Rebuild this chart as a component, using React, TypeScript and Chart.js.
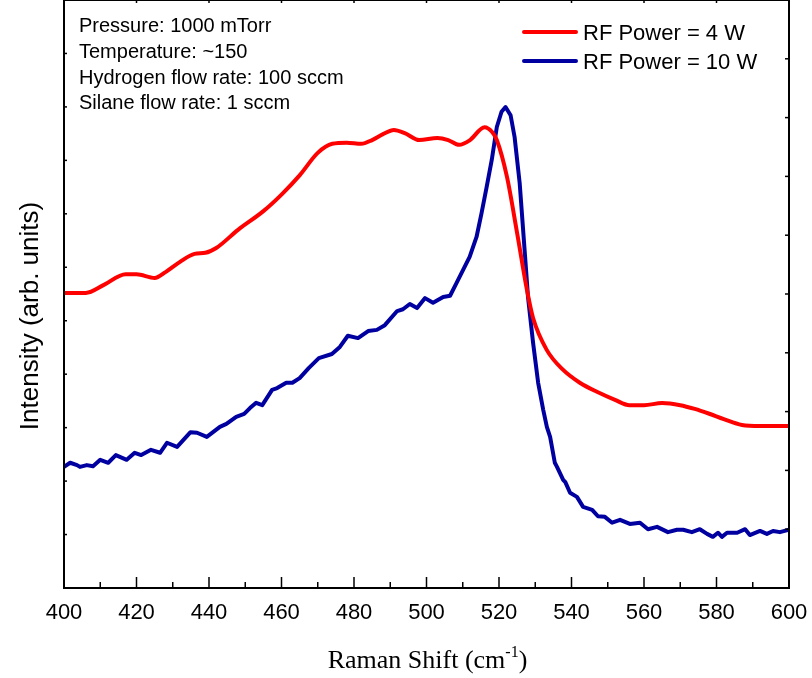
import React, { useEffect, useRef } from 'react';
import { Chart, registerables } from 'chart.js';

Chart.register(...registerables);

// ---- data ----
const seriesLabels = ['RF Power = 4 W', 'RF Power = 10 W'];
const seriesColors = ['#FF0000', '#0000A0'];

const redX = [400, 406, 411, 417, 420, 425, 428, 432, 436, 439, 442, 448, 455, 460, 465, 470, 474, 478, 482, 485, 488, 491, 494, 498, 503, 506, 509, 512, 516, 518.1, 519.4, 522.2, 525, 527.7, 529.4, 533.2, 537.7, 542.3, 547, 552, 556, 560, 565, 570, 574, 578, 582, 587, 592, 596, 600];
const redY = [5.52, 5.52, 5.67, 5.87, 5.87, 5.8, 5.91, 6.1, 6.25, 6.27, 6.36, 6.7, 7.05, 7.36, 7.72, 8.14, 8.31, 8.33, 8.31, 8.38, 8.49, 8.57, 8.51, 8.38, 8.42, 8.38, 8.29, 8.38, 8.62, 8.53, 8.38, 7.69, 6.64, 5.58, 5.05, 4.45, 4.08, 3.84, 3.67, 3.52, 3.42, 3.42, 3.46, 3.42, 3.35, 3.26, 3.16, 3.05, 3.03, 3.03, 3.03];

const blueX = [400, 401.7, 403.6, 404.4, 406.3, 408, 410, 412.2, 414.3, 417.3, 419.5, 421.3, 424, 426.5, 428.4, 431.2, 434.9, 436.7, 439.4, 443, 444.8, 447.5, 449.7, 451.3, 453, 454.7, 457.4, 458.8, 461.3, 463, 465, 467.5, 470.3, 473.9, 476.1, 478.3, 481.1, 483.9, 486.3, 488.5, 491.9, 493.5, 495.4, 497.4, 499.6, 501.8, 504.6, 506.5, 508.3, 511.9, 513.8, 515.2, 516.6, 518, 519.4, 520.7, 521.8, 523.2, 524.3, 525.7, 527.2, 528, 529.4, 530.8, 532.2, 533.2, 534.1, 535.4, 536, 537.7, 538.3, 539.6, 541.5, 543.2, 545.7, 547.3, 549.2, 551.2, 553.4, 556.1, 558.9, 561.1, 563.6, 566.6, 569.1, 570.8, 573.2, 575.4, 577.4, 579, 580.4, 581.5, 582.9, 585.7, 587.9, 589.2, 592, 593.9, 595.6, 597.5, 600];
const blueY = [2.06, 2.13, 2.09, 2.06, 2.09, 2.07, 2.18, 2.13, 2.26, 2.18, 2.3, 2.26, 2.35, 2.3, 2.47, 2.4, 2.65, 2.64, 2.57, 2.74, 2.79, 2.91, 2.96, 3.06, 3.15, 3.11, 3.37, 3.4, 3.49, 3.49, 3.57, 3.74, 3.91, 3.98, 4.1, 4.29, 4.25, 4.37, 4.39, 4.47, 4.71, 4.74, 4.83, 4.76, 4.93, 4.85, 4.95, 4.97, 5.19, 5.63, 5.97, 6.38, 6.82, 7.28, 7.84, 8.1, 8.18, 8.04, 7.67, 6.89, 5.63, 4.95, 4.17, 3.49, 3.03, 2.74, 2.57, 2.13, 2.06, 1.84, 1.8, 1.62, 1.55, 1.38, 1.33, 1.22, 1.21, 1.11, 1.16, 1.09, 1.11, 1.0, 1.04, 0.95, 0.99, 0.99, 0.95, 1.0, 0.92, 0.87, 0.94, 0.87, 0.94, 0.94, 1.0, 0.9, 0.97, 0.92, 0.97, 0.95, 0.99];

const xMin = 400;
const xMax = 600;
const xMajorStep = 20;
const xMinorStep = 10;
const yLeftMax = 11;
const yRightMax = 10;

const conditions = ['Pressure: 1000 mTorr', 'Temperature: ~150', 'Hydrogen flow rate: 100 sccm', 'Silane flow rate: 1 sccm'];
const yTitle = 'Intensity (arb. units)';
const xTitleMain = 'Raman Shift (cm';
const xTitleSup = '-1';
const xTitleEnd = ')';

const SANS = '"Liberation Sans", Arial, sans-serif';
const SERIF = '"Liberation Serif", "Times New Roman", serif';

const decorPlugin = {
  id: 'decor',
  afterDraw(chart: any) {
    const ctx = chart.ctx;
    const a = chart.chartArea;
    const xs = chart.scales.x;
    const yl = chart.scales.y;
    const yr = chart.scales.y1;
    ctx.save();
    // frame
    ctx.strokeStyle = '#000';
    ctx.lineWidth = 2;
    ctx.strokeRect(a.left, a.top, a.right - a.left, a.bottom - a.top);
    // x ticks
    ctx.lineWidth = 1.5;
    for (let v = xMin; v <= xMax; v += xMinorStep) {
      const p = xs.getPixelForValue(v);
      const major = (v - xMin) % xMajorStep === 0;
      ctx.beginPath();
      ctx.moveTo(p, a.bottom);
      ctx.lineTo(p, a.bottom - (major ? 11 : 6));
      ctx.stroke();
      if (major) {
        ctx.beginPath();
        ctx.moveTo(p, a.top);
        ctx.lineTo(p, a.top + 3);
        ctx.stroke();
      }
    }
    // y ticks left
    for (let v = 1; v < yLeftMax; v++) {
      const p = yl.getPixelForValue(v);
      ctx.beginPath();
      ctx.moveTo(a.left, p);
      ctx.lineTo(a.left + 3, p);
      ctx.stroke();
    }
    // y ticks right
    for (let v = 1; v < yRightMax; v++) {
      const p = yr.getPixelForValue(v);
      ctx.beginPath();
      ctx.moveTo(a.right, p);
      ctx.lineTo(a.right - 4, p);
      ctx.stroke();
    }
    // condition text
    ctx.fillStyle = '#000';
    ctx.font = `20px ${SANS}`;
    ctx.textAlign = 'left';
    ctx.textBaseline = 'alphabetic';
    conditions.forEach((t, i) => {
      ctx.fillText(t, a.left + 15, a.top + 32 + i * 25.8);
    });
    // legend
    ctx.font = `22px ${SANS}`;
    chart.data.datasets.forEach((ds: any, i: number) => {
      const ly = a.top + 32 + i * 29;
      ctx.strokeStyle = ds.borderColor;
      ctx.lineWidth = 4;
      ctx.lineCap = 'round';
      ctx.beginPath();
      ctx.moveTo(a.right - 265, ly);
      ctx.lineTo(a.right - 213, ly);
      ctx.stroke();
      ctx.fillStyle = '#000';
      ctx.fillText(ds.label, a.right - 206, ly + 7.5);
    });
    // y title
    ctx.save();
    ctx.translate(38, (a.top + a.bottom) / 2 + 22);
    ctx.rotate(-Math.PI / 2);
    ctx.font = `26px ${SANS}`;
    ctx.textAlign = 'center';
    ctx.textBaseline = 'alphabetic';
    ctx.fillStyle = '#000';
    ctx.fillText(yTitle, 0, 0);
    ctx.restore();
    // x title with superscript
    const mainFont = `26px ${SERIF}`;
    const supFont = `16px ${SERIF}`;
    ctx.font = mainFont;
    const w1 = ctx.measureText(xTitleMain).width;
    const w3 = ctx.measureText(xTitleEnd).width;
    ctx.font = supFont;
    const w2 = ctx.measureText(xTitleSup).width;
    const total = w1 + w2 + w3;
    let sx = (a.left + a.right) / 2 - total / 2 + 1;
    const by = a.bottom + 80;
    ctx.textAlign = 'left';
    ctx.font = mainFont;
    ctx.fillText(xTitleMain, sx, by);
    sx += w1;
    ctx.font = supFont;
    ctx.fillText(xTitleSup, sx, by - 11);
    sx += w2;
    ctx.font = mainFont;
    ctx.fillText(xTitleEnd, sx, by);
    ctx.restore();
  },
};

export default function App() {
  const ref = useRef<HTMLCanvasElement | null>(null);
  useEffect(() => {
    document.body.style.margin = '0';
    const canvas = ref.current;
    if (!canvas) return;
    const chart = new Chart(canvas, {
      type: 'line',
      data: {
        datasets: [
          {
            label: seriesLabels[0],
            data: redX.map((x, i) => ({ x, y: redY[i] })),
            borderColor: seriesColors[0],
            backgroundColor: seriesColors[0],
            borderWidth: 4,
            pointRadius: 0,
            cubicInterpolationMode: 'monotone',
            yAxisID: 'y',
          },
          {
            label: seriesLabels[1],
            data: blueX.map((x, i) => ({ x, y: blueY[i] })),
            borderColor: seriesColors[1],
            backgroundColor: seriesColors[1],
            borderWidth: 4,
            pointRadius: 0,
            tension: 0,
            borderJoinStyle: 'round',
            yAxisID: 'y1',
          },
        ],
      },
      options: {
        responsive: false,
        animation: false,
        events: [],
        layout: { padding: 0 },
        plugins: { legend: { display: false }, tooltip: { enabled: false } },
        scales: {
          x: {
            type: 'linear',
            position: 'bottom',
            min: xMin,
            max: xMax,
            grid: { display: false },
            border: { display: false },
            ticks: {
              stepSize: xMajorStep,
              autoSkip: false,
              maxRotation: 0,
              color: '#000',
              padding: 4,
              font: { family: SANS, size: 22 },
            },
            afterFit: (s: any) => {
              s.height = 90;
              s.paddingLeft = 0;
              s.paddingRight = 0;
            },
          },
          y: {
            type: 'linear',
            position: 'left',
            min: 0,
            max: yLeftMax,
            grid: { display: false },
            border: { display: false },
            ticks: { display: false },
            afterFit: (s: any) => { s.width = 64; },
          },
          y1: {
            type: 'linear',
            position: 'right',
            min: 0,
            max: yRightMax,
            grid: { display: false },
            border: { display: false },
            ticks: { display: false },
            afterFit: (s: any) => { s.width = 23; },
          },
        },
      } as any,
      plugins: [decorPlugin],
    });
    return () => chart.destroy();
  }, []);
  return (
    <div style={{ position: 'absolute', left: 0, top: 0, width: 812, height: 678, background: '#fff' }}>
      <canvas ref={ref} width={812} height={678} style={{ display: 'block' }} />
    </div>
  );
}
